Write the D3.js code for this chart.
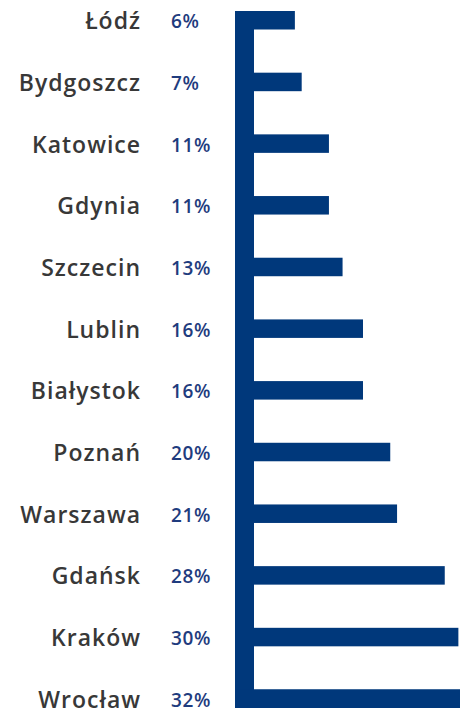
<!DOCTYPE html>
<html lang="pl">
<head>
  <meta charset="UTF-8" />
  <title>Miasta</title>
  <style>
    body { margin: 0; padding: 0; background: #fff; }
    svg { display: block; }
    .city { font-family: "Open Sans", sans-serif; font-weight: 600; fill: #383838; letter-spacing: 1px; }
    .pct { font-family: "Open Sans", sans-serif; font-weight: 600; fill: #1f3c7e; letter-spacing: 0.6px; }
  </style>
</head>
<body>
  <svg id="chart"></svg>

  <script src="https://d3js.org/d3.v7.min.js"></script>
  <script>
    const width = 460, height = 709;

    const cities = ["Łódź", "Bydgoszcz", "Katowice", "Gdynia", "Szczecin", "Lublin",
                    "Białystok", "Poznań", "Warszawa", "Gdańsk", "Kraków", "Wrocław"];
    const shares = [6, 7, 11, 11, 13, 16, 16, 20, 21, 28, 30, 32];

    const data = cities.map((c, i) => ({ city: c, value: shares[i] }));

    const svg = d3.select("#chart")
      .attr("width", width)
      .attr("height", height);

    const barColor = "#00387b";

    // bars start right after the thick left "axis"
    const x = d3.scaleLinear().domain([0, 32]).range([254, 472]);
    const y = d3.scaleBand()
      .domain(cities)
      .range([11, 708])
      .paddingInner(0.7)
      .paddingOuter(0);

    svg.selectAll("rect.bar")
      .data(data)
      .join("rect")
      .attr("class", "bar")
      .attr("x", x(0))
      .attr("y", d => y(d.city))
      .attr("width", d => x(d.value) - x(0))
      .attr("height", y.bandwidth())
      .attr("fill", barColor);

    // thick vertical axis
    const axisW = 19;
    svg.append("rect")
      .attr("x", x(0) - axisW)
      .attr("y", y(cities[0]))
      .attr("width", axisW)
      .attr("height", y(cities[cities.length - 1]) + y.bandwidth() - y(cities[0]))
      .attr("fill", barColor);

    // bottom bar joins the axis
    const last = data[data.length - 1];
    svg.append("rect")
      .attr("x", x(0) - axisW)
      .attr("y", y(last.city))
      .attr("width", x(last.value) - x(0) + axisW)
      .attr("height", y.bandwidth())
      .attr("fill", barColor);

    svg.selectAll("text.city")
      .data(data)
      .join("text")
      .attr("class", "city")
      .attr("x", 141)
      .attr("y", d => y(d.city) + y.bandwidth() / 2 + 9)
      .attr("text-anchor", "end")
      .attr("font-size", "23px")
      .text(d => d.city);

    svg.selectAll("text.pct")
      .data(data)
      .join("text")
      .attr("class", "pct")
      .attr("x", 171)
      .attr("y", d => y(d.city) + y.bandwidth() / 2 + 8)
      .attr("font-size", "19px")
      .text(d => d.value + "%");
  </script>
</body>
</html>
